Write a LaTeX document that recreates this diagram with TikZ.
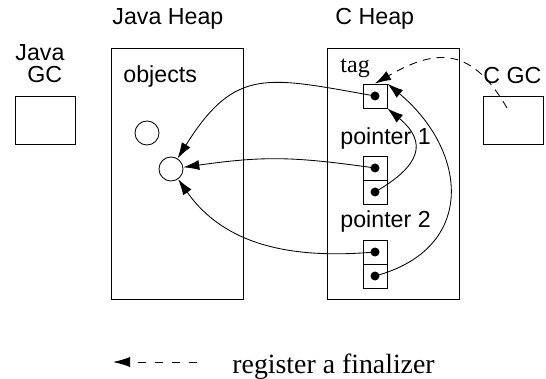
\documentclass[tikz,border=0pt]{standalone}
\usepackage{fontspec}
\setmainfont{Liberation Serif}
\setsansfont{Liberation Sans}
\usetikzlibrary{arrows.meta}
\begin{document}
\begin{tikzpicture}[x=1pt,y=-1pt,line width=0.85pt,
  heap/.style={draw,minimum width=132pt,minimum height=251pt,inner sep=0pt},
  gcbox/.style={draw,minimum width=60pt,minimum height=48pt,inner sep=0pt},
  cell/.style={draw,minimum size=24pt,inner sep=0pt},
  dot/.style={circle,fill,inner sep=0pt,minimum size=9pt},
  obj/.style={circle,draw,inner sep=0pt,minimum size=24pt},
  lbl/.style={font=\sffamily\fontsize{23.2}{26}\selectfont,inner sep=0pt,anchor=base west},
  slbl/.style={font=\rmfamily\fontsize{24}{27}\selectfont,inner sep=0pt,anchor=base west},
  ptr/.style={-{Latex[length=16pt,width=10pt]}},
  finarrow/.style={ptr,dash pattern=on 8pt off 6pt},
]
\useasboundingbox (0,0) rectangle (546,379);

% heaps and collectors
\node[heap]  (jheap) at (177,173.5) {};
\node[heap]  (cheap) at (393,173.5) {};
\node[gcbox] (jgc)   at (45,120) {};
\node[gcbox] (cgc)   at (513,120) {};

% titles
\node[lbl] (jheapl) at (112,25) {Java Heap};
\node[lbl] (cheapl) at (335,25) {C Heap};
\node[lbl] (jgcl1)  at (15,61)  {Java};
\node[lbl] (jgcl2)  at (27,83)  {GC};
\node[lbl] (cgcl)   at (483,84) {C GC};
\node[lbl] (objl)   at (123,83) {objects};
\node[slbl] (tagl)  at (340,73) {tag};
\node[lbl] (p1l)    at (340,145) {pointer 1};
\node[lbl] (p2l)    at (340,228) {pointer 2};

% objects in the Java heap
\node[obj] (o1) at (147,133) {};
\node[obj] (o2) at (171,169) {};

% cells in the C heap
\node[cell] (tagc) at (375,96)  {};
\node[cell] (p1a)  at (375,168) {};
\node[cell] (p1b)  at (375,192) {};
\node[cell] (p2a)  at (375,252) {};
\node[cell] (p2b)  at (375,276) {};
\node[dot] (tagd) at (tagc.center) {};
\node[dot] (p1ad) at (p1a.center) {};
\node[dot] (p1bd) at (p1b.center) {};
\node[dot] (p2ad) at (p2a.center) {};
\node[dot] (p2bd) at (p2b.center) {};

% references into the Java heap
\draw[ptr] (tagd.center) to[out=170,in=58,looseness=1.35] (o2);
\draw[ptr] (p1ad.center) to[out=172,in=8,looseness=1.1] (o2);
\draw[ptr] (p2ad.center) to[out=185,in=-55] (o2);

% references to the tag
\draw[ptr] (p1bd.center) to[out=30,in=-40,looseness=1.6] (tagc.south east);
\draw[ptr] (p2bd.center) to[out=15,in=-40,looseness=1.4] (tagc.north east);

% finalizer registration
\coordinate (cgcs) at (507,108);
\draw[finarrow] (cgcs) to[out=120,in=30,looseness=1.35] (tagc.north);

% legend
\coordinate (legs) at (197,362);
\coordinate (lege) at (113,362);
\draw[-{Latex[length=17pt,width=10pt]},dash pattern=on 8pt off 9pt] (legs) -- (lege);
\node[font=\rmfamily\fontsize{27.8}{31}\selectfont,inner sep=0pt,anchor=base west] (legl) at (232,373) {register a finalizer};
\end{tikzpicture}
\end{document}
